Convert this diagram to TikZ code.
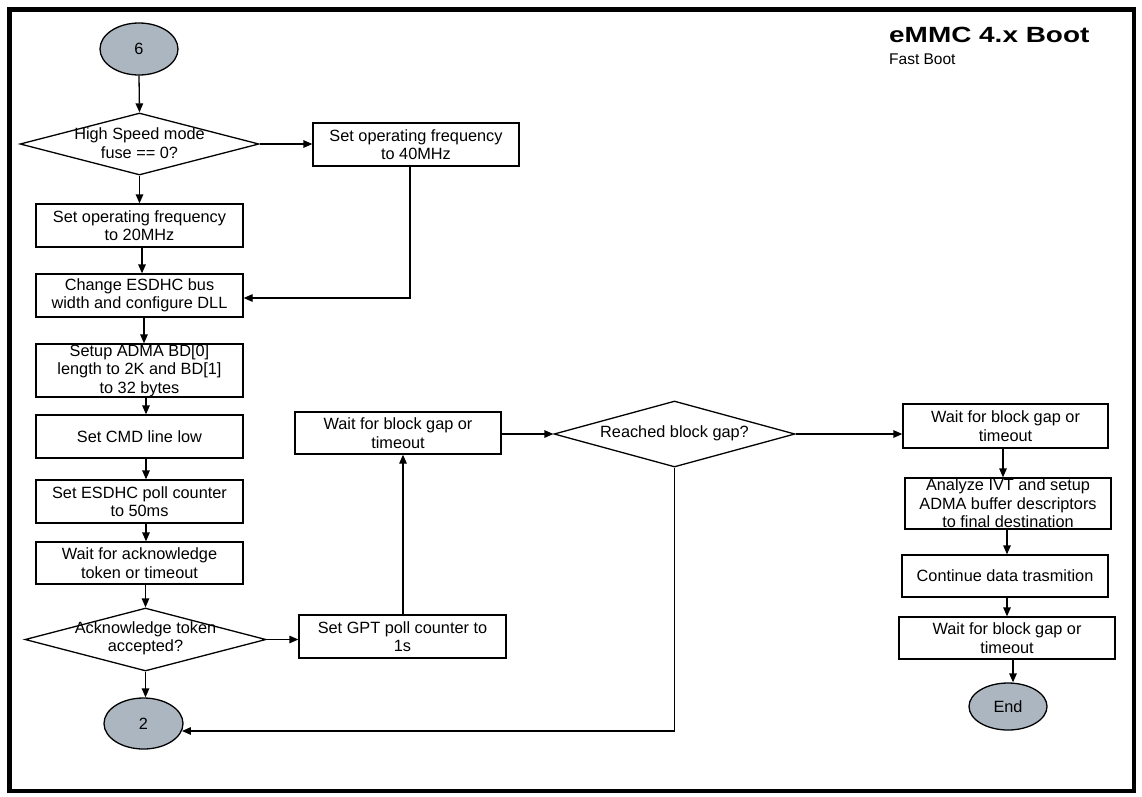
\documentclass[tikz,border=0pt]{standalone}
\usepackage{fontspec}
\setmainfont{Liberation Sans}
\usetikzlibrary{shapes.geometric,arrows.meta}
\definecolor{termfill}{RGB}{172,182,192}
\newcommand{\bodyfont}{\fontsize{16.3pt}{18.5pt}\selectfont}
\tikzset{
  pbox/.style={draw, line width=1.3pt, inner sep=0pt, align=center, font=\bodyfont},
  dia/.style={draw, diamond, line width=1.3pt, inner sep=0pt},
  term/.style={draw, ellipse, line width=1.3pt, fill=termfill, inner sep=0pt, font=\bodyfont},
  txt/.style={inner sep=0pt, align=center, font=\bodyfont},
  arr/.style={line width=1.3pt, -{Triangle[length=9pt,width=7.5pt]}},
  ln/.style={line width=1.3pt}
}
\begin{document}
\begin{tikzpicture}[x=1pt,y=-1pt]
\useasboundingbox (0,0) rectangle (1142,796);
\draw[line width=4.3pt] (9.5,9.5) rectangle (1134,791);
% title
\node[anchor=base west, inner sep=0pt] (title) at (889,42) {\scalebox{1.27}[1]{\fontsize{22pt}{24pt}\selectfont\bfseries eMMC 4.x Boot}};
\node[anchor=base west, inner sep=0pt] (sub) at (889,64.3) {\fontsize{15.5pt}{18pt}\selectfont Fast Boot};
% left column
\node[term, minimum width=78pt, minimum height=52pt] (e6) at (139,49) {6};
\node[dia, minimum width=239pt, minimum height=62pt] (d1) at (139.5,144) {};
\node[txt] (d1t) at (139.5,143) {High Speed mode\\fuse == 0?};
\node[pbox, minimum width=206pt, minimum height=43pt] (b40) at (416,144.5) {Set operating frequency\\to 40MHz};
\node[pbox, minimum width=207pt, minimum height=43pt] (b20) at (139.5,225.5) {Set operating frequency\\to 20MHz};
\node[pbox, minimum width=207pt, minimum height=43pt] (bch) at (139.5,295.5) {Change ESDHC bus\\width and configure DLL};
\node[pbox, minimum width=207pt, minimum height=53pt] (badma) at (139.5,370.5) {Setup ADMA BD[0]\\length to 2K and BD[1]\\to 32 bytes};
\node[pbox, minimum width=207pt, minimum height=43pt] (bcmd) at (139.5,436.5) {Set CMD line low};
\node[pbox, minimum width=207pt, minimum height=43pt] (bpoll) at (139.5,501.5) {Set ESDHC poll counter\\to 50ms};
\node[pbox, minimum width=207pt, minimum height=42pt] (back) at (139.5,563) {Wait for acknowledge\\token or timeout};
\node[dia, minimum width=241pt, minimum height=63pt] (d2) at (145.5,639.5) {};
\node[txt] (d2t) at (145.5,638.5) {Acknowledge token\\accepted?};
\node[term, minimum width=79pt, minimum height=51pt] (e2) at (143.5,723.5) {2};
% middle
\node[pbox, minimum width=207pt, minimum height=43pt] (bgpt) at (402.5,636.5) {Set GPT poll counter to\\1s};
\node[pbox, minimum width=206pt, minimum height=42pt] (bw1) at (398,433) {Wait for block gap or\\timeout};
\node[dia, minimum width=241pt, minimum height=66pt] (d3) at (674.5,434) {};
\node[txt] (d3t) at (674.5,433) {Reached block gap?};
% right column
\node[pbox, minimum width=205pt, minimum height=44pt] (bw2) at (1005.5,426) {Wait for block gap or\\timeout};
\node[pbox, minimum width=206pt, minimum height=51pt] (ban) at (1008,503.5) {Analyze IVT and setup\\ADMA buffer descriptors\\to final destination};
\node[pbox, minimum width=206pt, minimum height=42pt] (bcont) at (1005,576) {Continue data trasmition};
\node[pbox, minimum width=216pt, minimum height=42pt] (bw3) at (1007,638) {Wait for block gap or\\timeout};
\node[term, minimum width=78pt, minimum height=47pt] (eend) at (1008,706.5) {End};
% connectors
\draw[arr] (e6.south) -- (d1.north);
\draw[arr] (d1.east) -- (d1.east -| b40.west);
\draw[arr] (d1.south) -- (b20.north);
\draw[arr] (b20.south -| 142,0) -- (bch.north -| 142,0);
\draw[arr] (b40.south -| 410,0) |- (bch.east |- 0,298);
\draw[arr] (bch.south -| 144,0) -- (badma.north -| 144,0);
\draw[arr] (badma.south -| 146,0) -- (bcmd.north -| 146,0);
\draw[arr] (bcmd.south -| 146,0) -- (bpoll.north -| 146,0);
\draw[arr] (bpoll.south -| 146,0) -- (back.north -| 146,0);
\draw[arr] (back.south -| d2.north) -- (d2.north);
\draw[arr] (d2.south) -- (d2.south |- e2.north);
\draw[arr] (d2.east) -- (d2.east -| bgpt.west);
\draw[arr] (bgpt.north -| 403,0) -- (bw1.south -| 403,0);
\draw[arr] (bw1.east |- d3.west) -- (d3.west);
\draw[arr] (d3.east) -- (d3.east -| bw2.west);
\draw[arr] (d3.south) |- (e2.-11);
\draw[arr] (bw2.south -| 1003,0) -- (ban.north -| 1003,0);
\draw[arr] (ban.south -| 1007,0) -- (bcont.north -| 1007,0);
\draw[arr] (bcont.south -| 1007,0) -- (bw3.north -| 1007,0);
\draw[arr] (bw3.south -| 1013,0) -- (eend.north -| 1013,0);
\end{tikzpicture}
\end{document}
